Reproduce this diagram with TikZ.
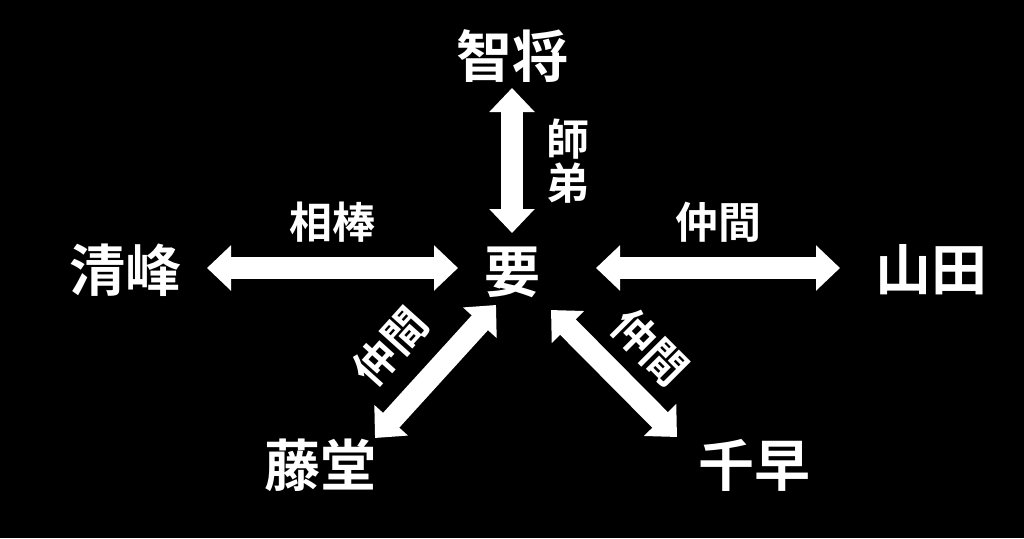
\documentclass[tikz,border=0pt]{standalone}
\usepackage{fontspec}
\newfontfamily\cjk{Noto Sans CJK JP}[BoldFont={Noto Sans CJK JP Bold}]
\usetikzlibrary{arrows.meta}
\begin{document}
\begin{tikzpicture}[x=1pt,y=-1pt,
  person/.style={font=\cjk\bfseries\fontsize{56}{56}\selectfont, text=white, inner sep=0pt},
  lbl/.style={font=\cjk\bfseries\fontsize{43}{44}\selectfont, text=white, inner sep=0pt},
  dbl/.style={white, line width=22pt, {Triangle[width=44pt,length=24pt]}-{Triangle[width=44pt,length=24pt]}}]
\fill[black] (0,0) rectangle (1024,538);
\useasboundingbox (0,0) rectangle (1024,538);
\node[person] (kaname) at (512,272) {要};
\node[person] (tomo) at (512,56) {智将};
\node[person] (kiyo) at (125,270) {清峰};
\node[person] (yama) at (931,270) {山田};
\node[person] (todo) at (320,465) {藤堂};
\node[person] (chi) at (754,465) {千早};
\coordinate (a1) at (512,88); \coordinate (a2) at (512,233);
\coordinate (b1) at (207,268); \coordinate (b2) at (458,268);
\coordinate (c1) at (596,268); \coordinate (c2) at (840,268);
\coordinate (d1) at (375,438); \coordinate (d2) at (496,305);
\coordinate (e1) at (551,310); \coordinate (e2) at (677,437);
\draw[dbl] (a1) -- (a2);
\draw[dbl] (b1) -- (b2);
\draw[dbl] (c1) -- (c2);
\draw[dbl] (d1) -- (d2);
\draw[dbl] (e1) -- (e2);
\node[lbl, align=center] (shitei) at (568,161) {師\\弟};
\node[lbl] (aibou) at (332,222) {相棒};
\node[lbl] (naka1) at (718,222) {仲間};
\node[lbl, rotate=48] (naka2) at (390,347) {仲間};
\node[lbl, rotate=-45] (naka3) at (650,347) {仲間};
\end{tikzpicture}
\end{document}
